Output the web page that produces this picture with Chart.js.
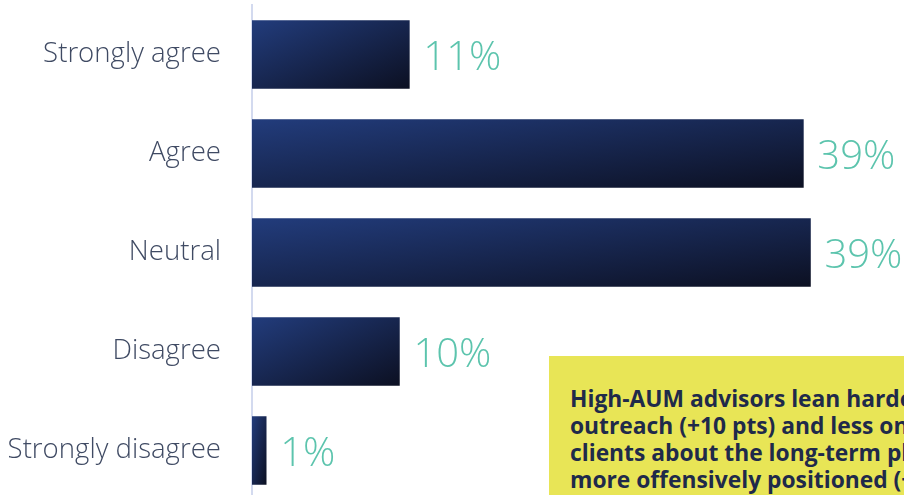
<!DOCTYPE html>
<html>
<head>
<meta charset="utf-8">
<script src="https://cdn.jsdelivr.net/npm/chart.js@4.4.0/dist/chart.umd.min.js"></script>
<style>
  html, body { margin: 0; padding: 0; background: #fff; overflow: hidden; }
  #wrap { position: relative; width: 904px; height: 495px; overflow: hidden; }
  #surveyChart { position: absolute; left: 0; top: 0; }
  .callout {
    position: absolute; left: 549px; top: 356px; width: 460px; height: 160px;
    background: #e8e556; box-sizing: border-box; padding: 29px 0 0 21px;
    font-family: "Open Sans", sans-serif; font-weight: 700; font-size: 22.8px;
    line-height: 27px; color: #1f2a4a; white-space: nowrap;
  }
</style>
</head>
<body>
<div id="wrap">
  <canvas id="surveyChart" width="904" height="500"></canvas>
  <div class="callout">
    High-AUM advisors lean harder into proactive<br>
    outreach (+10 pts) and less on reassuring<br>
    clients about the long-term plan, and are<br>
    more offensively positioned (+8 pts).
  </div>
</div>
<script>
const categories = ["Strongly agree", "Agree", "Neutral", "Disagree", "Strongly disagree"];
const shares = [11.1, 38.9, 39.4, 10.4, 1.0];
const BAR_H = 68;

// diagonal shading per bar, darker toward the lower right corner
function barGradient(context) {
  const chart = context.chart;
  const xs = chart.scales.x, ys = chart.scales.y;
  const i = context.dataIndex;
  if (!xs || !ys || i === undefined) return "#1a2a5a";
  const x0 = xs.getPixelForValue(0);
  const x1 = xs.getPixelForValue(shares[i]);
  const cy = ys.getPixelForValue(i);
  if (![x0, x1, cy].every(Number.isFinite)) return "#1a2a5a";
  const w = Math.max(x1 - x0, 1), h = BAR_H;
  const y0 = cy - h / 2;
  const L2 = w * w + h * h;
  const g = chart.ctx.createLinearGradient(x0, y0, x0 + 2 * w * h * h / L2, y0 + 2 * w * w * h / L2);
  g.addColorStop(0, "#223c7c");
  g.addColorStop(1, "#0c1022");
  return g;
}

const valueLabels = {
  id: "valueLabels",
  afterDatasetsDraw(chart) {
    const ctx = chart.ctx;
    const meta = chart.getDatasetMeta(0);
    ctx.save();
    ctx.font = "300 40px 'Open Sans'";
    ctx.fillStyle = "#5cc4ad";
    ctx.textAlign = "left";
    ctx.textBaseline = "middle";
    meta.data.forEach((bar, i) => {
      ctx.fillText(Math.round(shares[i]) + "%", bar.x + 14, bar.y + 4);
    });
    ctx.restore();
  }
};

new Chart(document.getElementById("surveyChart"), {
  type: "bar",
  data: {
    labels: categories,
    datasets: [{
      data: shares,
      backgroundColor: barGradient,
      borderWidth: 0,
      barThickness: BAR_H
    }]
  },
  options: {
    indexAxis: "y",
    responsive: false,
    animation: false,
    layout: { padding: { top: 5, right: 0, bottom: 0, left: 0 } },
    plugins: { legend: { display: false }, tooltip: { enabled: false } },
    scales: {
      x: {
        display: false,
        min: 0,
        max: 46
      },
      y: {
        afterFit(scale) {
          scale.width = 252;
          // the label gap should not push the plot area in vertically
          scale.paddingTop = 0;
          scale.paddingBottom = 0;
        },
        grid: { display: false, drawTicks: false },
        border: { display: true, color: "#d3daef", width: 2 },
        ticks: {
          padding: 31,
          color: "#3f4a63",
          font: { family: "'Open Sans'", size: 27.6, weight: "300" }
        }
      }
    }
  },
  plugins: [valueLabels]
});
</script>
</body>
</html>
